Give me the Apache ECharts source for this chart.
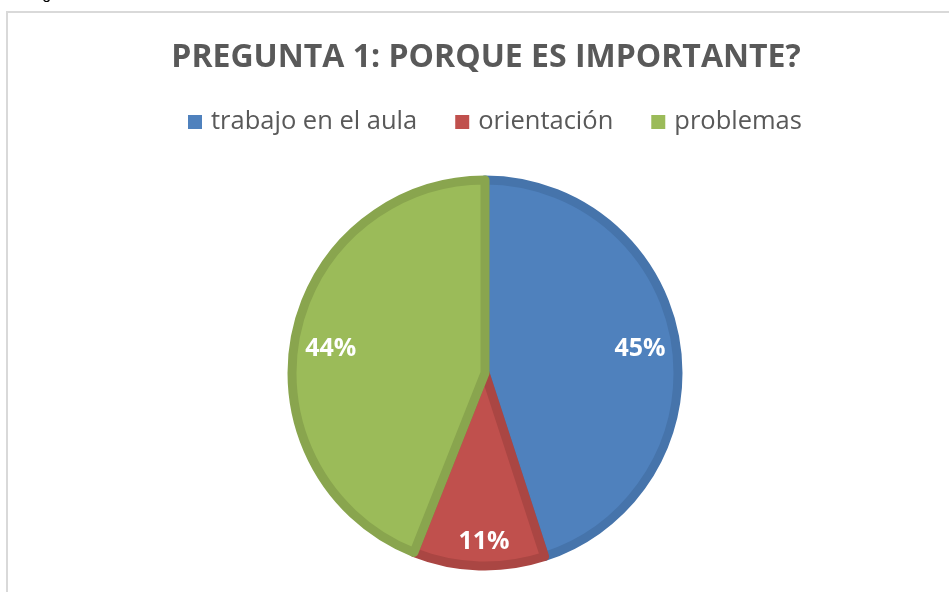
<!DOCTYPE html>
<html>
<head>
<meta charset="utf-8">
<title>Pregunta 1</title>
<script src="https://cdn.jsdelivr.net/npm/echarts@6/dist/echarts.min.js"></script>
<style>
  html, body { margin: 0; padding: 0; background: #fff; }
  #main { width: 949px; height: 592px; }
</style>
</head>
<body>
<div id="main"></div>
<script>
// datos
var categories = ['trabajo en el aula', 'orientación', 'problemas'];
var values = [45, 11, 44];
var fillColors = ['#4F81BD', '#C0504D', '#9BBB59'];
var edgeColors = ['#4674AB', '#AA4643', '#89A54E'];

var myChart = echarts.init(document.getElementById('main'));

var pieData = [];
var labelData = [];
for (var i = 0; i < categories.length; i++) {
  pieData.push({
    name: categories[i],
    value: values[i],
    itemStyle: { color: fillColors[i], borderColor: edgeColors[i] }
  });
  labelData.push({ name: categories[i], value: values[i] });
}
// la etiqueta pequeña va mas cerca del borde
labelData[1].label = { offset: [4, 12] };
labelData[2].label = { offset: [0, 5] };

var option = {
  backgroundColor: '#fff',
  title: {
    text: 'PREGUNTA 1: PORQUE ES IMPORTANTE?',
    left: 481,
    textAlign: 'center',
    top: 37,
    textStyle: {
      fontFamily: 'Open Sans',
      fontWeight: 'bold',
      fontSize: 32,
      color: '#595959'
    }
  },
  legend: {
    data: categories,
    left: 183,
    top: 104,
    icon: 'rect',
    itemWidth: 14,
    itemHeight: 14,
    itemGap: 38,
    itemStyle: { borderWidth: 0 },
    textStyle: {
      fontFamily: 'Open Sans',
      fontSize: 25.5,
      color: '#595959',
      padding: [0, 0, 0, 4]
    }
  },
  graphic: [
    {
      type: 'rect',
      shape: { x: 7, y: 12, width: 1200, height: 1200 },
      style: { fill: 'none', stroke: '#d9d9d9', lineWidth: 2 },
      silent: true
    },
    {
      type: 'text',
      x: 29,
      y: 3,
      style: {
        text: 'Figura',
        font: '16px Liberation Sans',
        fill: '#000',
        verticalAlign: 'bottom'
      },
      silent: true
    }
  ],
  series: [
    {
      type: 'pie',
      center: [485, 373],
      radius: [0, 193],
      startAngle: 90,
      clockwise: true,
      itemStyle: { borderWidth: 9 },
      label: { show: false },
      labelLine: { show: false },
      emphasis: { disabled: true },
      data: pieData
    },
    {
      type: 'pie',
      center: [485, 373],
      radius: [114, 194],
      startAngle: 90,
      clockwise: true,
      silent: true,
      itemStyle: { color: 'transparent', borderWidth: 0 },
      label: {
        show: true,
        position: 'inside',
        formatter: '{d}%',
        fontFamily: 'Open Sans',
        fontWeight: 'bold',
        fontSize: 25,
        color: '#fff'
      },
      labelLine: { show: false },
      emphasis: { disabled: true },
      data: labelData
    }
  ]
};

myChart.setOption(option);
</script>
</body>
</html>
